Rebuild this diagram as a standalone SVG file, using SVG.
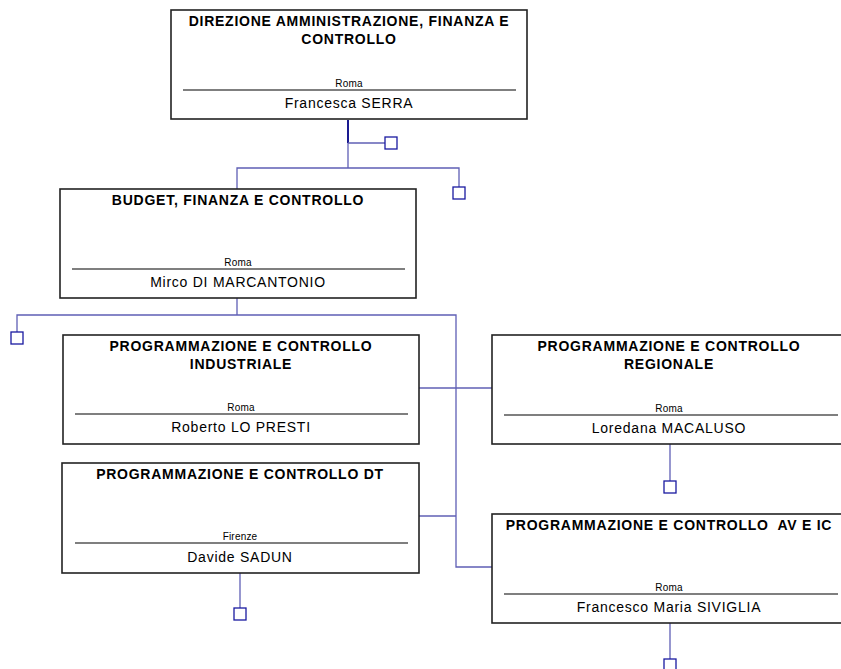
<svg xmlns="http://www.w3.org/2000/svg" width="841" height="669" viewBox="0 0 841 669">
<style>
.box{fill:#fff;stroke:#222;stroke-width:1.6}
.t{font-family:"Liberation Sans",Arial,sans-serif;font-weight:bold;font-size:14px;fill:#000;text-anchor:middle;letter-spacing:0.75px;white-space:pre}
.loc{font-family:"Liberation Sans",Arial,sans-serif;font-size:10px;fill:#000;text-anchor:middle;letter-spacing:0.2px}
.nm{font-family:"Liberation Sans",Arial,sans-serif;font-size:14px;fill:#000;text-anchor:middle;letter-spacing:0.75px}
.sep{stroke:#000;stroke-width:1.2}
.c{fill:none;stroke:#5f5fb5;stroke-width:1.3}
.sq{fill:#fff;stroke:#1a1aa0;stroke-width:1.3}
</style>
<rect width="841" height="669" fill="#fff"/>
<g id="connectors">
<line class="c" x1="348" y1="120" x2="348" y2="168" />
<line x1="348" y1="120" x2="348" y2="143" stroke="#1a1a90" stroke-width="2"/>
<line class="c" x1="348" y1="143" x2="385" y2="143"/>
<rect class="sq" x="385" y="137" width="12" height="12"/>
<polyline class="c" points="237,189 237,168 459,168 459,187"/>
<rect class="sq" x="453" y="187" width="12" height="12"/>
<line class="c" x1="237" y1="298" x2="237" y2="315"/>
<polyline class="c" points="17,332 17,315 456,315 456,567 492,567"/>
<rect class="sq" x="11" y="332" width="12" height="12"/>
<line class="c" x1="419" y1="388" x2="492" y2="388"/>
<line class="c" x1="419" y1="516" x2="456" y2="516"/>
<line class="c" x1="670" y1="444" x2="670" y2="481"/>
<rect class="sq" x="664" y="481" width="12" height="12"/>
<line class="c" x1="240" y1="573" x2="240" y2="608"/>
<rect class="sq" x="234" y="608" width="12" height="12"/>
<line class="c" x1="670" y1="623" x2="670" y2="659"/>
<rect class="sq" x="664" y="659" width="12" height="12"/>
</g>
<g id="n1">
<rect class="box" x="171" y="10" width="356" height="109"/>
<text class="t" x="349" y="26">DIREZIONE AMMINISTRAZIONE, FINANZA E</text>
<text class="t" x="349" y="44">CONTROLLO</text>
<text class="loc" x="349" y="87">Roma</text>
<line class="sep" x1="183" y1="90" x2="516" y2="90"/>
<text class="nm" x="349" y="108">Francesca SERRA</text>
</g>
<g id="n2">
<rect class="box" x="60" y="189" width="356" height="109"/>
<text class="t" x="238" y="205">BUDGET, FINANZA E CONTROLLO</text>
<text class="loc" x="238" y="266">Roma</text>
<line class="sep" x1="72" y1="269" x2="405" y2="269"/>
<text class="nm" x="238" y="287">Mirco DI MARCANTONIO</text>
</g>
<g id="n3">
<rect class="box" x="63" y="335" width="356" height="109"/>
<text class="t" x="241" y="351">PROGRAMMAZIONE E CONTROLLO</text>
<text class="t" x="241" y="369">INDUSTRIALE</text>
<text class="loc" x="241" y="411">Roma</text>
<line class="sep" x1="75" y1="414" x2="408" y2="414"/>
<text class="nm" x="241" y="432">Roberto LO PRESTI</text>
</g>
<g id="n4">
<rect class="box" x="492" y="335" width="356" height="109"/>
<text class="t" x="669" y="351">PROGRAMMAZIONE E CONTROLLO</text>
<text class="t" x="669" y="369">REGIONALE</text>
<text class="loc" x="669" y="412">Roma</text>
<line class="sep" x1="504" y1="415" x2="838" y2="415"/>
<text class="nm" x="669" y="433">Loredana MACALUSO</text>
</g>
<g id="n5">
<rect class="box" x="62" y="463" width="357" height="110"/>
<text class="t" x="240" y="479">PROGRAMMAZIONE E CONTROLLO DT</text>
<text class="loc" x="240" y="540">Firenze</text>
<line class="sep" x1="75" y1="543" x2="408" y2="543"/>
<text class="nm" x="240" y="562">Davide SADUN</text>
</g>
<g id="n6">
<rect class="box" x="492" y="514" width="356" height="109"/>
<text class="t" x="669" y="530" xml:space="preserve">PROGRAMMAZIONE E CONTROLLO  AV E IC</text>
<text class="loc" x="669" y="591">Roma</text>
<line class="sep" x1="504" y1="594" x2="838" y2="594"/>
<text class="nm" x="669" y="612">Francesco Maria SIVIGLIA</text>
</g>
</svg>
